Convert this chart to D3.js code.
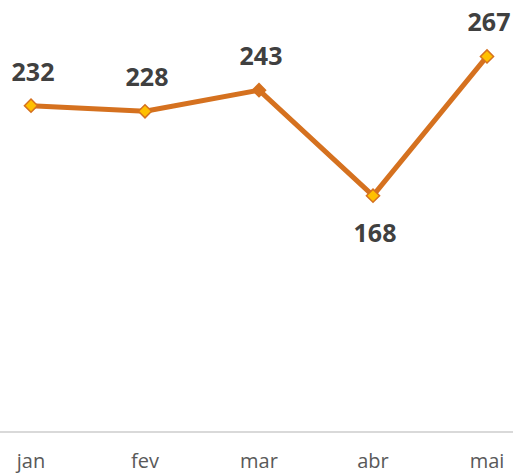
<!DOCTYPE html>
<html>
<head>
<meta charset="utf-8">
<script src="https://cdn.jsdelivr.net/npm/d3@7"></script>
<style>
  body { margin: 0; background: #fff; }
  svg { display: block; }
  .label-value { font-family: "Open Sans", sans-serif; font-weight: bold; font-size: 25px; fill: #404040; }
  .label-month { font-family: "Open Sans", sans-serif; font-size: 20px; fill: #595959; }
</style>
</head>
<body>
<div id="chart"></div>
<script>
const months = ["jan", "fev", "mar", "abr", "mai"];
const values = [232, 228, 243, 168, 267];
// which point has its label below the line
const labelBelow = ["abr"];

const width = 513;
const height = 475;

const svg = d3.select('#chart')
    .append('svg')
        .attr('viewBox', [0, 0, width, height])
        .attr('width', width)
        .attr('height', height);

const x = d3.scalePoint()
    .domain(months)
    .range([31, 487]);

const y = d3.scaleLinear()
    .domain([0, 300])
    .range([432, 10]);

const rows = months.map((m, i) => ({ month: m, value: values[i] }));

// baseline
svg.append('line')
    .attr('x1', 0)
    .attr('x2', width)
    .attr('y1', y(0))
    .attr('y2', y(0))
    .attr('stroke', '#d9d9d9')
    .attr('stroke-width', 2);

// month labels
svg.selectAll('.label-month')
    .data(months)
    .join('text')
        .attr('class', 'label-month')
        .attr('x', d => x(d))
        .attr('y', 468)
        .attr('text-anchor', 'middle')
        .text(d => d);

const line = d3.line()
    .x(d => x(d.month))
    .y(d => y(d.value));

svg.append('path')
    .datum(rows)
    .attr('d', line)
    .attr('fill', 'none')
    .attr('stroke', '#d5711f')
    .attr('stroke-width', 5)
    .attr('stroke-linejoin', 'round');

// diamond markers
const diamond = d3.symbol().type(d3.symbolDiamond2).size(110);
svg.selectAll('.marker')
    .data(rows)
    .join('path')
        .attr('class', 'marker')
        .attr('d', diamond)
        .attr('transform', d => `translate(${x(d.month)},${y(d.value)})`)
        .attr('fill', d => d.month === 'mar' ? '#d5711f' : '#ffc000')
        .attr('stroke', '#d5711f')
        .attr('stroke-width', 1.5);

// value labels
svg.selectAll('.label-value')
    .data(rows)
    .join('text')
        .attr('class', 'label-value')
        .attr('x', d => x(d.month) + 2)
        .attr('y', d => labelBelow.includes(d.month) ? y(d.value) + 46 : y(d.value) - 25)
        .attr('text-anchor', 'middle')
        .text(d => d.value);
</script>
</body>
</html>
